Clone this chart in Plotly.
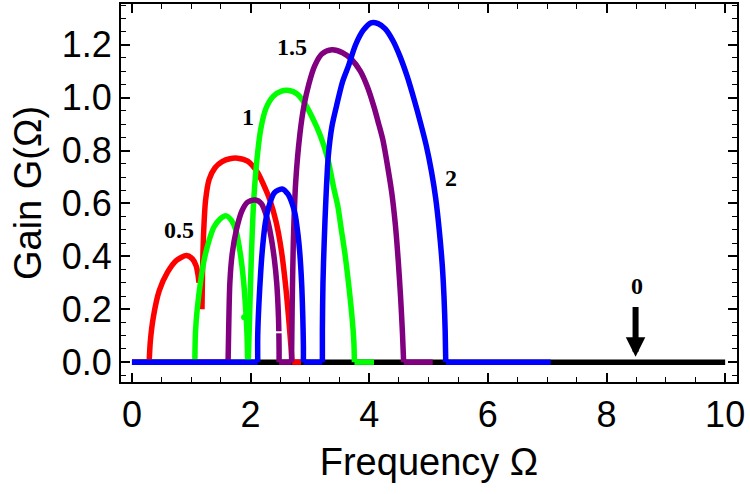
import plotly.graph_objects as go

# ---- data ----
# each colour: baseline pieces and lobes, separated by None
k0_x = [0, 10]
k0_y = [0, 0]

red_x = [0, 0.29, None,
         0.29, 0.31, 0.36, 0.46, 0.60, 0.75, 0.92, 1.02, 1.08, 1.11, 1.13, None,
         1.18, 1.19, 1.21, 1.24, 1.30, 1.40, 1.52, 1.65, 1.78, 1.95, 2.11, 2.22, 2.33, 2.43,
         2.52, 2.59, 2.64, 2.68, 2.70, None,
         2.70, 2.85]
red_y = [0, 0, None,
         0, 0.08, 0.17, 0.27, 0.34, 0.385, 0.403, 0.39, 0.365, 0.335, 0.30, None,
         0.20, 0.35, 0.50, 0.61, 0.69, 0.735, 0.758, 0.769, 0.771, 0.76, 0.72, 0.67, 0.61, 0.53,
         0.42, 0.29, 0.17, 0.06, 0, None,
         0, 0]

green_x = [0, 1.06, None,
           1.06, 1.07, 1.10, 1.16, 1.22, 1.30, 1.38, 1.48, 1.59, 1.68, 1.75, 1.82, 1.88, 1.92,
           1.94, 1.95, None,
           1.95, 1.96, None,
           1.96, 1.98, 2.01, 2.05, 2.10, 2.17, 2.26, 2.38, 2.52, 2.65, 2.78, 2.89,
           3.03, 3.17, 3.30, 3.40, 3.47, 3.53, 3.59, 3.66, 3.71, 3.74, 3.75, None,
           3.75, 4.08]
green_y = [0, 0, None,
           0, 0.11, 0.20, 0.31, 0.39, 0.46, 0.51, 0.54, 0.553, 0.535, 0.50, 0.42, 0.31, 0.19,
           0.10, 0, None,
           0, 0, None,
           0, 0.15, 0.38, 0.60, 0.75, 0.88, 0.96, 1.005, 1.025, 1.027, 1.015, 0.986,
           0.93, 0.86, 0.77, 0.66, 0.59, 0.50, 0.41, 0.28, 0.17, 0.08, 0, None,
           0, 0]
green_dot_x = [1.89]
green_dot_y = [0.17]

purple_x = [0, 1.62, None,
            1.62, 1.63, 1.65, 1.69, 1.76, 1.85, 1.95, 2.08, 2.18, 2.27, 2.34, 2.40, 2.44, 2.47,
            2.48, 2.48, None,
            2.48, 2.69, None,
            2.69, 2.70, 2.72, 2.76, 2.83, 2.90, 2.98, 3.08, 3.20, 3.37, 3.55, 3.70,
            3.85, 3.97, 4.08, 4.16, 4.23, 4.31, 4.38, 4.44, 4.49, 4.53, 4.56, 4.58, None,
            4.58, 5.07]
purple_y = [0, 0, None,
            0, 0.12, 0.30, 0.41, 0.50, 0.57, 0.605, 0.613, 0.60, 0.55, 0.48, 0.39, 0.30, 0.17,
            0.05, 0, None,
            0, 0, None,
            0, 0.20, 0.45, 0.68, 0.86, 0.97, 1.05, 1.12, 1.165, 1.181, 1.17, 1.145,
            1.10, 1.04, 0.965, 0.90, 0.84, 0.74, 0.64, 0.52, 0.38, 0.24, 0.11, 0, None,
            0, 0]

blue_x = [0, 2.12, None,
          2.12, 2.12, 2.14, 2.17, 2.20, 2.25, 2.31, 2.40, 2.53, 2.63, 2.70, 2.75, 2.80, 2.83,
          2.86, 2.88, 2.89, 2.89, None,
          2.89, 3.21, None,
          3.21, 3.21, 3.22, 3.24, 3.27, 3.31, 3.37, 3.45, 3.55, 3.65,
          3.77, 3.90, 4.03, 4.15, 4.27, 4.40, 4.52, 4.64, 4.76, 4.87, 4.96, 5.05, 5.12, 5.18,
          5.23, 5.26, 5.28, 5.29, None,
          5.29, 7.06]
blue_y = [0, 0, None,
          0, 0.10, 0.22, 0.34, 0.43, 0.53, 0.59, 0.64, 0.655, 0.635, 0.60, 0.56, 0.48, 0.41,
          0.30, 0.17, 0.06, 0, None,
          0, 0, None,
          0, 0.12, 0.30, 0.45, 0.62, 0.78, 0.89, 0.97, 1.06, 1.12,
          1.20, 1.255, 1.283, 1.28, 1.26, 1.215, 1.155, 1.08, 0.99, 0.90, 0.82, 0.72, 0.62, 0.50,
          0.37, 0.25, 0.12, 0, None,
          0, 0]

white_x = [2.40, 2.53]
white_y = [0.113, 0.113]

label_text = ["0.5", "1", "1.5", "2", "0"]
label_x = [0.79, 1.96, 2.70, 5.37, 8.52]
label_y = [0.50, 0.925, 1.19, 0.695, 0.287]

arrow_x = 8.49
arrow_tail_y = 0.214
arrow_tip_y = 0.02

x_ticks = [0, 2, 4, 6, 8, 10]
y_ticks = [0.0, 0.2, 0.4, 0.6, 0.8, 1.0, 1.2]

# ---- figure ----
fig = go.Figure()
LW = 5.5
series = [
    (k0_x, k0_y, "black"),
    (red_x, red_y, "#ff0000"),
    (green_x, green_y, "#00ff00"),
    (purple_x, purple_y, "#800080"),
    (blue_x, blue_y, "#0000ff"),
]
for xs, ys, c in series:
    fig.add_trace(go.Scatter(x=xs, y=ys, mode="lines",
                             line=dict(color=c, width=LW, shape="spline", smoothing=0.8),
                             connectgaps=False, showlegend=False, hoverinfo="skip"))

fig.add_trace(go.Scatter(x=green_dot_x, y=green_dot_y, mode="markers",
                         marker=dict(color="#00ff00", size=6), showlegend=False))
fig.add_trace(go.Scatter(x=white_x, y=white_y, mode="lines",
                         line=dict(color="white", width=2), showlegend=False))

for t, xv, yv in zip(label_text, label_x, label_y):
    fig.add_annotation(x=xv, y=yv, text="<b>" + t + "</b>", showarrow=False,
                       font=dict(family="Liberation Serif", size=24, color="black"))

fig.add_annotation(x=arrow_x, y=arrow_tip_y, ax=arrow_x, ay=arrow_tail_y,
                   xref="x", yref="y", axref="x", ayref="y", text="",
                   showarrow=True, arrowhead=2, arrowwidth=6, arrowsize=0.65,
                   arrowcolor="black", standoff=0)

axis_common = dict(
    showline=True, linecolor="black", linewidth=2, mirror="allticks",
    ticks="inside", ticklen=9, tickwidth=1.5, tickcolor="black",
    showgrid=False, zeroline=False,
    tickfont=dict(family="Liberation Sans", size=36, color="black"),
)
fig.update_xaxes(**axis_common, range=[-0.185, 10.2], tickvals=x_ticks,
                 minor=dict(dtick=0.5, tick0=0, ticks="inside", ticklen=5, tickwidth=1.3,
                            tickcolor="black", showgrid=False),
                 title=dict(text="Frequency Ω", font=dict(family="Liberation Sans", size=38,
                                                            color="black"), standoff=14))
fig.update_yaxes(**axis_common, range=[-0.075, 1.354], tickvals=y_ticks, tickformat=".1f",
                 minor=dict(dtick=0.05, tick0=0, ticks="inside", ticklen=5, tickwidth=1.3,
                            tickcolor="black", showgrid=False),
                 title=dict(text="Gain G(Ω)", font=dict(family="Liberation Sans", size=38,
                                                          color="black"), standoff=8))
fig.update_layout(width=750, height=494, margin=dict(l=121, r=13, t=2, b=112),
                  plot_bgcolor="white", paper_bgcolor="white")

fig.write_html("out.html")
